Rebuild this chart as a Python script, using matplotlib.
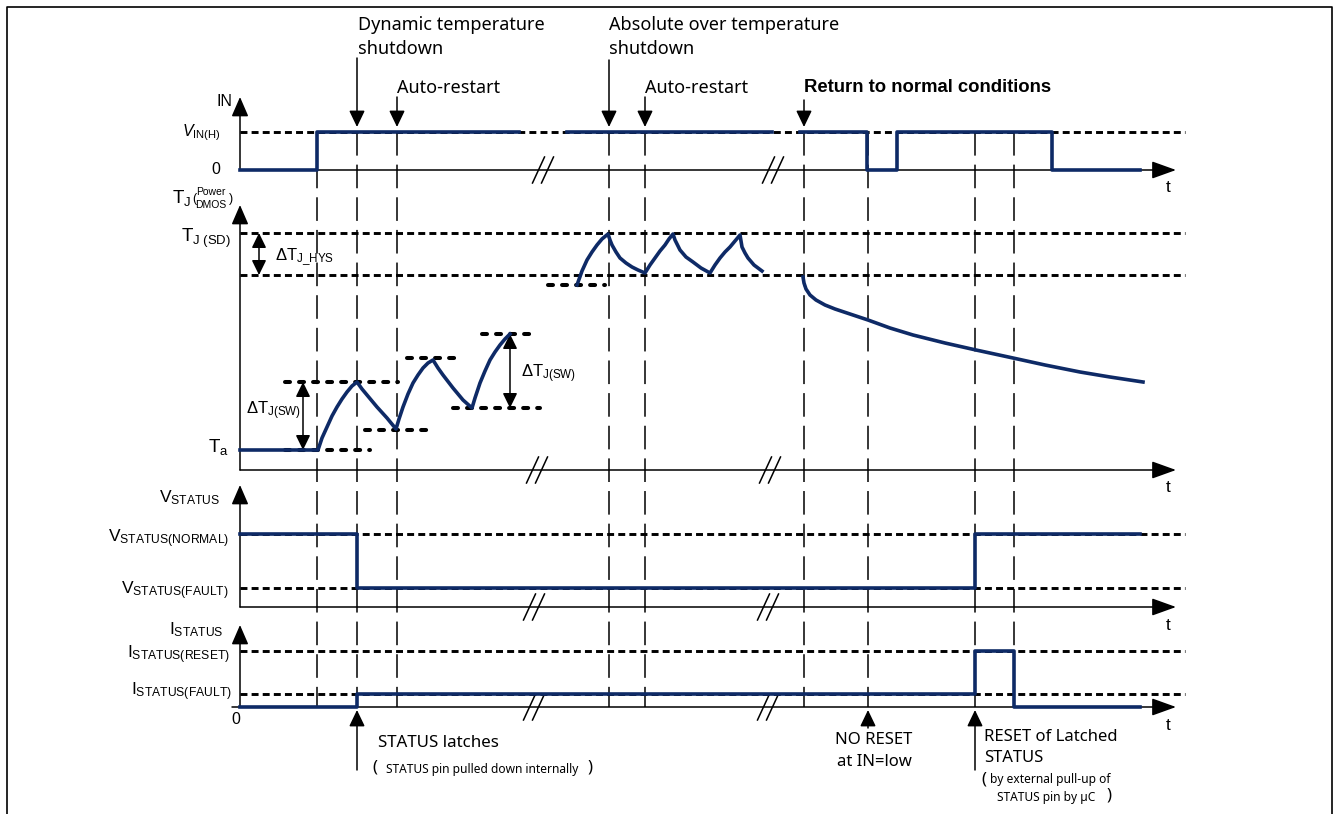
"""
timing diagram: IN, junction temperature, STATUS voltage and STATUS current
for dynamic / absolute over-temperature shutdown with latched STATUS
"""
import numpy as np
import matplotlib.pyplot as plt

plt.rcParams['font.family'] = ['Noto Sans', 'DejaVu Sans']
plt.rcParams['mathtext.fontset'] = 'custom'
plt.rcParams['mathtext.rm'] = 'Liberation Sans'
plt.rcParams['mathtext.it'] = 'Liberation Sans:italic'
plt.rcParams['mathtext.bf'] = 'Liberation Sans:bold'
plt.rcParams['lines.scale_dashes'] = False

NAVY = '#0e2a66'

# diagram units follow the drawing grid (x = time, y = level, downwards)
AXIS_X0 = 240
AXIS_X1 = 1176
LEVEL_X1 = 1185

# vertical event markers
event_t = [317, 357, 397, 609, 645, 804, 868, 975, 1014]

# panels: IN, T_J, V_STATUS, I_STATUS
panel_base = [170, 470, 607, 707]
panel_top = [97, 205, 485, 625]
break_t = [[543, 773], [537, 770], [534, 768], [534, 768]]

# reference levels (dashed lines)
level_y = [132, 233, 275, 534, 588, 651, 694]

# IN signal: 0 -> low, 1 -> V_IN(H)
in_levels = [170, 132]
in_segments = [
    ([240, 317, 317, 519], [0, 0, 1, 1]),
    ([567, 772], [1, 1]),
    ([800, 867, 867, 897, 897, 1052, 1052, 1140], [1, 1, 0, 0, 1, 1, 0, 0]),
]

# junction temperature, dynamic sawtooth from T_a
tj_saw_t = [240, 318, 322, 327, 332, 337, 342, 347, 352, 357,
            362, 367, 377, 387, 396,
            399, 403, 408, 413, 418, 423, 428, 433,
            438, 443, 453, 463, 472,
            475, 480, 485, 490, 495, 500, 505, 510]
tj_saw_y = [450, 450, 438, 427, 416, 407, 399, 392, 386, 382,
            389, 395, 407, 418, 429,
            419, 407, 394, 383, 375, 368, 363, 360,
            368, 375, 388, 400, 408,
            398, 383, 371, 360, 352, 345, 339, 334]

# junction temperature, absolute over-temperature cycling
tj_hot_t = [577, 582, 587, 592, 597, 602, 608,
            610, 612, 616, 620, 626, 632, 638, 645,
            650, 655, 660, 665, 669, 673,
            675, 677, 680, 686, 693, 701, 710,
            715, 720, 725, 730, 735, 740,
            741, 742, 745, 748, 754, 762]
tj_hot_y = [285, 271, 260, 252, 245, 239, 234,
            240, 245, 252, 258, 263, 267, 270, 273,
            265, 258, 251, 245, 239, 234,
            240, 244, 250, 257, 262, 268, 273,
            265, 258, 252, 247, 241, 235,
            241, 247, 253, 258, 265, 271]

# junction temperature after return to normal conditions
tj_cool_t = [803, 804, 806, 810, 816, 825, 835, 850, 868, 890, 913, 945, 976, 1013, 1045, 1080, 1110, 1143]
tj_cool_y = [277, 283, 289, 295, 300, 305, 309, 314, 320, 328, 335, 343, 350, 358, 365, 372, 377, 382]

# short thick level markers around the sawtooth
mark_x0 = [285, 285, 365, 407, 453, 482, 548]
mark_x1 = [370, 398, 432, 462, 540, 537, 605]
mark_y = [450, 382, 430, 358, 408, 334, 285]

# STATUS voltage: 0 -> FAULT, 1 -> NORMAL
v_levels = [588, 534]
v_t = [240, 357, 357, 975, 975, 1140]
v_state = [1, 1, 0, 0, 1, 1]

# STATUS current: 0 -> zero, 1 -> FAULT, 2 -> RESET
i_levels = [707, 694, 651]
i_t = [240, 357, 357, 975, 975, 1014, 1014, 1140]
i_state = [0, 0, 1, 1, 2, 2, 0, 0]


def arrow(ax, x0, y0, x1, y1, style='-|>,head_length=0.5,head_width=0.24', lw=1.1):
    ax.annotate('', xy=(x1, y1), xytext=(x0, y0),
                arrowprops=dict(arrowstyle=style, color='black', lw=lw,
                                mutation_scale=20, shrinkA=0, shrinkB=0))


def main():
    fig = plt.figure(figsize=(13.35, 8.14), dpi=100)
    ax = fig.add_axes([0, 0, 1, 1])
    ax.set_xlim(0, 1335)
    ax.set_ylim(814, 0)
    ax.axis('off')

    # frame
    ax.plot([7, 7, 1332, 1332], [814, 7, 7, 814], color='black', lw=1.2)

    # event lines
    for t in event_t:
        ax.plot([t, t], [132, 707], color='black', lw=1.1, dashes=(17, 6.5), zorder=1)

    # reference levels
    for y in level_y:
        ax.plot([AXIS_X0, LEVEL_X1], [y, y], color='black', lw=2.1, dashes=(5, 3), zorder=2)

    # axes with arrow heads, break marks and t labels
    for base, top, breaks in zip(panel_base, panel_top, break_t):
        arrow(ax, AXIS_X0, base, AXIS_X0, top, style='-|>,head_length=0.6,head_width=0.26')
        arrow(ax, AXIS_X0 - 8 if base == panel_base[-1] else AXIS_X0, base, AXIS_X1, base,
              style='-|>,head_length=0.75,head_width=0.27')
        ax.text(1168, base + 18, 't', family='Liberation Sans', fontsize=12.5, ha='center', va='center')
        for cx in breaks:
            for off in (-4.5, 4.5):
                ax.plot([cx + off - 6, cx + off + 6], [base + 13, base - 13], color='black', lw=1.1, zorder=3)

    # IN signal
    for t, s in in_segments:
        ax.plot(t, np.array(in_levels)[s], color=NAVY, lw=2.6, zorder=4)

    # junction temperature
    ax.plot(tj_saw_t, tj_saw_y, color=NAVY, lw=2.6, zorder=4, solid_joinstyle='round')
    ax.plot(tj_hot_t, tj_hot_y, color=NAVY, lw=2.6, zorder=4, solid_joinstyle='round')
    ax.plot(tj_cool_t, tj_cool_y, color=NAVY, lw=2.6, zorder=4, solid_joinstyle='round')
    for x0, x1, y in zip(mark_x0, mark_x1, mark_y):
        ax.plot([x0, x1], [y, y], color='black', lw=2.9, dashes=(3.6, 6.5),
                dash_capstyle='round', zorder=3)

    # STATUS voltage / current
    ax.plot(v_t, np.array(v_levels)[v_state], color=NAVY, lw=2.6, zorder=4)
    ax.plot(i_t, np.array(i_levels)[i_state], color=NAVY, lw=2.6, zorder=4)

    # delta arrows
    dbl = '<|-|>,head_length=0.45,head_width=0.22'
    arrow(ax, 259, 233, 259, 275, style=dbl)
    arrow(ax, 303, 382, 303, 450, style=dbl)
    arrow(ax, 510, 334, 510, 408, style=dbl)
    ax.text(275, 257, r'$\mathrm{\Delta T_{J\_HYS}}$', fontsize=12, ha='left', va='center')
    ax.text(246, 411, r'$\mathrm{\Delta T_{J(SW)}}$', fontsize=12, ha='left', va='center')
    ax.text(521, 374, r'$\mathrm{\Delta T_{J(SW)}}$', fontsize=12, ha='left', va='center')

    # top annotations
    ax.text(358, 25, 'Dynamic temperature', fontsize=13, va='center')
    ax.text(358, 49, 'shutdown', fontsize=13, va='center')
    ax.text(397, 88, 'Auto-restart', fontsize=13, va='center')
    ax.text(609, 25, 'Absolute over temperature', fontsize=13, va='center')
    ax.text(609, 49, 'shutdown', fontsize=13, va='center')
    ax.text(645, 88, 'Auto-restart', fontsize=13, va='center')
    ax.text(804, 88, 'Return to normal conditions', family='Liberation Sans',
            fontsize=13.3, fontweight='bold', va='center')
    for x, y0 in [(357, 58), (397, 97), (609, 60), (645, 97), (804, 100)]:
        arrow(ax, x, y0, x, 127)

    # bottom annotations
    for x, y0 in [(357, 770), (868, 728), (975, 770)]:
        arrow(ax, x, y0, x, 710)
    ax.text(378, 743, 'STATUS latches', fontsize=12.2, va='center')
    ax.text(372, 768, '(', fontsize=12, va='center')
    ax.text(386, 769, 'STATUS pin pulled down internally', fontsize=8.6, va='center')
    ax.text(587, 768, ')', fontsize=12, va='center')
    ax.text(835, 740, 'NO RESET', fontsize=12, va='center')
    ax.text(837, 762, 'at IN=low', fontsize=12, va='center')
    ax.text(984, 737, 'RESET of Latched', fontsize=12, va='center')
    ax.text(984, 758, 'STATUS', fontsize=12, va='center')
    ax.text(981, 779, '(', fontsize=12, va='center')
    ax.text(990, 780, 'by external pull-up of', fontsize=8.6, va='center')
    ax.text(997, 798, 'STATUS pin by \u00b5C', fontsize=8.6, va='center')
    ax.text(1106, 796, ')', fontsize=12, va='center')

    # left labels
    ax.text(232, 101, 'IN', family='Liberation Sans', fontsize=11.5, ha='right', va='center')
    ax.text(221, 133, r'$V_{\mathrm{IN(H)}}$', fontsize=11.5, ha='right', va='center')
    ax.text(216, 170, '0', family='Liberation Sans', fontsize=11.5, ha='center', va='center')
    ax.text(172, 198, r'$\mathrm{T_J}$', fontsize=13.5, ha='left', va='center')
    ax.text(194, 199, '(', family='Liberation Sans', fontsize=9, ha='center', va='center')
    ax.text(211, 192, 'Power', family='Liberation Sans', fontsize=7.5, ha='center', va='center')
    ax.text(211, 205, 'DMOS', family='Liberation Sans', fontsize=7.5, ha='center', va='center')
    ax.text(231, 199, ')', family='Liberation Sans', fontsize=9, ha='center', va='center')
    ax.text(231, 238, r'$\mathrm{T_{J\ (SD)}}$', fontsize=13.5, ha='right', va='center')
    ax.text(229, 447, r'$\mathrm{T_a}$', fontsize=13.5, ha='right', va='center')
    ax.text(190, 498, r'$\mathrm{V_{STATUS}}$', fontsize=12.5, ha='center', va='center')
    ax.text(229, 539, r'$\mathrm{V_{STATUS(NORMAL)}}$', fontsize=12.5, ha='right', va='center')
    ax.text(229, 591, r'$\mathrm{V_{STATUS(FAULT)}}$', fontsize=12.5, ha='right', va='center')
    ax.text(196, 630, r'$\mathrm{I_{STATUS}}$', fontsize=12.5, ha='center', va='center')
    ax.text(230, 655, r'$\mathrm{I_{STATUS(RESET)}}$', fontsize=12.5, ha='right', va='center')
    ax.text(232, 692, r'$\mathrm{I_{STATUS(FAULT)}}$', fontsize=12.5, ha='right', va='center')
    ax.text(236, 720, '0', family='Liberation Sans', fontsize=11.5, ha='center', va='center')

    fig.savefig('out.png', dpi=100)


if __name__ == "__main__":
    main()
